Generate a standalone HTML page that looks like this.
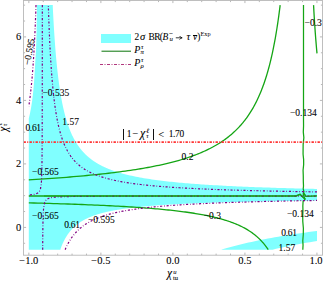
<!DOCTYPE html>
<html><head><meta charset="utf-8"><title>plot</title>
<style>
html,body{margin:0;padding:0;background:#fff;}
body{width:324px;height:281px;position:relative;overflow:hidden;font-family:"Liberation Serif",serif;color:#000;}
.t{position:absolute;white-space:nowrap;line-height:1;font-family:"Liberation Serif",serif;-webkit-text-stroke:0.08px #000;}
</style></head><body>
<svg width="324" height="281" viewBox="0 0 324 281" style="position:absolute;left:0;top:0">
<rect width="324" height="281" fill="#fff"/>
<path d="M36.90,5.10 L36.89,7.02 L36.88,8.94 L36.87,10.87 L36.85,12.79 L36.83,14.71 L36.81,16.63 L36.78,18.55 L36.76,20.48 L36.73,22.40 L36.70,24.32 L36.66,26.24 L36.63,28.16 L36.60,30.09 L36.56,32.01 L36.52,33.93 L36.47,35.85 L36.42,37.77 L36.37,39.70 L36.31,41.62 L36.24,43.54 L36.18,45.46 L36.10,47.38 L36.03,49.31 L35.95,51.23 L35.85,53.15 L35.74,55.07 L35.62,56.99 L35.49,58.92 L35.37,60.84 L35.25,62.76 L35.14,64.68 L35.03,66.61 L34.92,68.53 L34.81,70.45 L34.70,72.37 L34.59,74.29 L34.46,76.22 L34.33,78.14 L34.20,80.06 L34.05,81.98 L33.90,83.90 L33.73,85.83 L33.56,87.75 L33.39,89.67 L33.20,91.59 L33.00,93.51 L32.79,95.44 L32.58,97.36 L32.34,99.28 L32.08,101.20 L31.80,103.12 L31.50,105.05 L31.18,106.97 L30.84,108.89 L30.48,110.81 L30.09,112.73 L29.68,114.66 L29.25,116.58 L28.80,118.50 L28.80,249.70 L60.48,249.70 L60.49,249.10 L60.80,248.23 L61.12,247.40 L61.43,246.59 L61.74,245.80 L62.05,245.05 L62.36,244.31 L62.67,243.60 L62.98,242.90 L63.30,242.23 L63.61,241.58 L63.92,240.95 L64.23,240.33 L64.54,239.73 L64.85,239.15 L65.17,238.58 L65.48,238.03 L65.79,237.49 L66.10,236.97 L66.41,236.46 L66.72,235.96 L67.04,235.48 L67.35,235.00 L67.66,234.54 L67.97,234.09 L68.28,233.65 L68.59,233.22 L68.90,232.80 L69.22,232.40 L69.53,231.99 L69.84,231.60 L70.15,231.22 L70.46,230.85 L70.77,230.48 L71.09,230.12 L71.40,229.77 L71.71,229.43 L72.02,229.09 L72.33,228.76 L72.64,228.44 L72.95,228.12 L73.27,227.81 L73.58,227.51 L73.89,227.21 L74.20,226.92 L74.51,226.63 L74.82,226.35 L75.14,226.08 L75.45,225.81 L75.76,225.54 L76.07,225.28 L76.38,225.02 L76.69,224.77 L77.01,224.53 L77.32,224.28 L77.63,224.05 L77.94,223.81 L78.25,223.58 L78.56,223.35 L78.87,223.13 L79.19,222.91 L79.50,222.70 L79.81,222.49 L80.12,222.28 L80.43,222.08 L80.74,221.87 L81.06,221.68 L81.37,221.48 L81.68,221.29 L81.99,221.10 L82.30,220.91 L82.61,220.73 L82.92,220.55 L83.24,220.37 L83.55,220.20 L83.86,220.03 L84.17,219.86 L84.48,219.69 L84.79,219.52 L85.11,219.36 L85.42,219.20 L85.73,219.04 L86.04,218.89 L86.35,218.73 L86.66,218.58 L86.97,218.43 L87.29,218.29 L87.60,218.14 L87.91,218.00 L88.22,217.86 L88.53,217.72 L88.84,217.58 L89.16,217.45 L89.47,217.31 L89.78,217.18 L90.09,217.05 L90.40,216.92 L90.71,216.79 L91.03,216.67 L91.34,216.54 L91.65,216.42 L91.96,216.30 L92.27,216.18 L92.58,216.06 L92.89,215.95 L93.21,215.83 L93.52,215.72 L93.83,215.61 L94.14,215.50 L94.45,215.39 L94.76,215.28 L95.08,215.17 L95.39,215.07 L95.70,214.96 L96.01,214.86 L96.32,214.76 L96.63,214.65 L96.94,214.55 L97.26,214.46 L97.57,214.36 L97.88,214.26 L98.19,214.17 L98.50,214.07 L98.81,213.98 L99.13,213.89 L99.44,213.80 L99.75,213.71 L100.06,213.62 L100.37,213.53 L100.68,213.44 L100.99,213.35 L101.31,213.27 L101.62,213.18 L101.93,213.10 L102.24,213.02 L102.55,212.93 L102.86,212.85 L103.18,212.77 L103.49,212.69 L103.80,212.61 L104.11,212.54 L104.42,212.46 L104.73,212.38 L105.05,212.31 L105.36,212.23 L105.67,212.16 L105.98,212.08 L106.29,212.01 L106.60,211.94 L106.91,211.87 L107.23,211.80 L107.54,211.73 L107.85,211.66 L108.16,211.59 L108.47,211.52 L108.78,211.45 L109.10,211.39 L109.41,211.32 L109.72,211.25 L110.03,211.19 L110.34,211.13 L110.65,211.06 L110.96,211.00 L111.28,210.94 L111.59,210.87 L111.90,210.81 L112.21,210.75 L112.52,210.69 L112.83,210.63 L113.15,210.57 L113.46,210.51 L113.77,210.45 L114.08,210.40 L114.39,210.34 L114.70,210.28 L115.02,210.23 L115.33,210.17 L115.64,210.11 L115.95,210.06 L116.26,210.00 L116.57,209.95 L116.88,209.90 L117.20,209.84 L117.51,209.79 L117.82,209.74 L118.13,209.69 L118.44,209.64 L118.75,209.58 L119.07,209.53 L119.38,209.48 L119.69,209.43 L120.00,209.38 L121.99,209.08 L123.98,208.79 L125.97,208.51 L127.96,208.24 L129.95,207.99 L131.94,207.75 L133.93,207.52 L135.92,207.30 L137.91,207.08 L139.90,206.88 L141.89,206.68 L143.88,206.50 L145.87,206.32 L147.86,206.14 L149.85,205.97 L151.84,205.81 L153.83,205.66 L155.82,205.51 L157.81,205.36 L159.80,205.22 L161.79,205.09 L163.78,204.96 L165.77,204.83 L167.76,204.71 L169.75,204.59 L171.74,204.47 L173.73,204.36 L175.72,204.25 L177.71,204.15 L179.70,204.04 L181.69,203.94 L183.68,203.85 L185.67,203.75 L187.66,203.66 L189.65,203.57 L191.64,203.49 L193.63,203.40 L195.62,203.32 L197.61,203.24 L199.60,203.16 L201.59,203.09 L203.58,203.01 L205.57,202.94 L207.56,202.87 L209.55,202.80 L211.54,202.73 L213.53,202.67 L215.52,202.60 L217.51,202.54 L219.49,202.48 L221.48,202.42 L223.47,202.36 L225.46,202.30 L227.45,202.25 L229.44,202.19 L231.43,202.14 L233.42,202.09 L235.41,202.03 L237.40,201.98 L239.39,201.93 L241.38,201.89 L243.37,201.84 L245.36,201.79 L247.35,201.75 L249.34,201.70 L251.33,201.66 L253.32,201.61 L255.31,201.57 L257.30,201.53 L259.29,201.49 L261.28,201.45 L263.27,201.41 L265.26,201.37 L267.25,201.33 L269.24,201.30 L271.23,201.26 L273.22,201.22 L275.21,201.19 L277.20,201.15 L279.19,201.12 L281.18,201.08 L283.17,201.05 L285.16,201.02 L287.15,200.99 L289.14,200.96 L291.13,200.92 L293.12,200.89 L295.11,200.86 L297.10,200.83 L299.09,200.80 L301.08,200.78 L303.07,200.75 L305.06,200.72 L307.05,200.69 L309.04,200.67 L311.03,200.64 L313.02,200.61 L315.01,200.59 L317.00,200.56 L317.00,188.94 L315.01,188.90 L313.02,188.85 L311.03,188.80 L309.04,188.76 L307.05,188.71 L305.06,188.66 L303.07,188.61 L301.08,188.56 L299.09,188.51 L297.10,188.45 L295.11,188.40 L293.12,188.35 L291.13,188.29 L289.14,188.24 L287.15,188.18 L285.16,188.12 L283.17,188.06 L281.18,188.00 L279.19,187.94 L277.20,187.88 L275.21,187.82 L273.22,187.75 L271.23,187.69 L269.24,187.62 L267.25,187.56 L265.26,187.49 L263.27,187.42 L261.28,187.35 L259.29,187.27 L257.30,187.20 L255.31,187.13 L253.32,187.05 L251.33,186.97 L249.34,186.89 L247.35,186.81 L245.36,186.73 L243.37,186.64 L241.38,186.56 L239.39,186.47 L237.40,186.38 L235.41,186.29 L233.42,186.20 L231.43,186.10 L229.44,186.00 L227.45,185.90 L225.46,185.80 L223.47,185.70 L221.48,185.59 L219.49,185.48 L217.51,185.37 L215.52,185.26 L213.53,185.14 L211.54,185.02 L209.55,184.90 L207.56,184.78 L205.57,184.65 L203.58,184.52 L201.59,184.38 L199.60,184.25 L197.61,184.11 L195.62,183.96 L193.63,183.81 L191.64,183.66 L189.65,183.50 L187.66,183.34 L185.67,183.17 L183.68,183.00 L181.69,182.83 L179.70,182.65 L177.71,182.46 L175.72,182.27 L173.73,182.07 L171.74,181.87 L169.75,181.66 L167.76,181.44 L165.77,181.22 L163.78,180.98 L161.79,180.75 L159.80,180.50 L157.81,180.24 L155.82,179.98 L153.83,179.70 L151.84,179.42 L149.85,179.12 L147.86,178.81 L145.87,178.50 L143.88,178.16 L141.89,177.82 L139.90,177.46 L137.91,177.08 L135.92,176.69 L133.93,176.29 L131.94,175.86 L129.95,175.41 L127.96,174.95 L125.97,174.46 L123.98,173.94 L121.99,173.40 L120.00,172.84 L119.77,172.77 L119.53,172.70 L119.30,172.63 L119.06,172.56 L118.83,172.49 L118.60,172.42 L118.36,172.34 L118.13,172.27 L117.89,172.20 L117.66,172.13 L117.42,172.05 L117.19,171.98 L116.96,171.91 L116.72,171.83 L116.49,171.76 L116.25,171.68 L116.02,171.61 L115.79,171.53 L115.55,171.45 L115.32,171.37 L115.08,171.30 L114.85,171.22 L114.62,171.14 L114.38,171.06 L114.15,170.98 L113.91,170.90 L113.68,170.82 L113.44,170.73 L113.21,170.65 L112.98,170.57 L112.74,170.49 L112.51,170.40 L112.27,170.32 L112.04,170.23 L111.81,170.15 L111.57,170.06 L111.34,169.97 L111.10,169.88 L110.87,169.80 L110.64,169.71 L110.40,169.62 L110.17,169.53 L109.93,169.44 L109.70,169.35 L109.46,169.25 L109.23,169.16 L109.00,169.07 L108.76,168.97 L108.53,168.88 L108.29,168.78 L108.06,168.69 L107.83,168.59 L107.59,168.49 L107.36,168.40 L107.12,168.30 L106.89,168.20 L106.66,168.10 L106.42,167.99 L106.19,167.89 L105.95,167.79 L105.72,167.69 L105.48,167.58 L105.25,167.48 L105.02,167.37 L104.78,167.27 L104.55,167.16 L104.31,167.05 L104.08,166.94 L103.85,166.83 L103.61,166.72 L103.38,166.61 L103.14,166.49 L102.91,166.38 L102.68,166.27 L102.44,166.15 L102.21,166.04 L101.97,165.92 L101.74,165.80 L101.51,165.68 L101.27,165.56 L101.04,165.44 L100.80,165.32 L100.57,165.20 L100.33,165.07 L100.10,164.95 L99.87,164.82 L99.63,164.69 L99.40,164.56 L99.16,164.44 L98.93,164.30 L98.70,164.17 L98.46,164.04 L98.23,163.91 L97.99,163.77 L97.76,163.64 L97.53,163.50 L97.29,163.36 L97.06,163.22 L96.82,163.08 L96.59,162.94 L96.35,162.79 L96.12,162.65 L95.89,162.50 L95.65,162.36 L95.42,162.21 L95.18,162.06 L94.95,161.91 L94.72,161.75 L94.48,161.60 L94.25,161.44 L94.01,161.29 L93.78,161.13 L93.55,160.97 L93.31,160.81 L93.08,160.64 L92.84,160.48 L92.61,160.31 L92.37,160.14 L92.14,159.97 L91.91,159.80 L91.67,159.63 L91.44,159.46 L91.20,159.28 L90.97,159.10 L90.74,158.92 L90.50,158.74 L90.27,158.56 L90.03,158.37 L89.80,158.18 L89.57,158.00 L89.33,157.80 L89.10,157.61 L88.86,157.42 L88.63,157.22 L88.39,157.02 L88.16,156.82 L87.93,156.62 L87.69,156.41 L87.46,156.20 L87.22,155.99 L86.99,155.78 L86.76,155.57 L86.52,155.35 L86.29,155.13 L86.05,154.91 L85.82,154.69 L85.59,154.46 L85.35,154.23 L85.12,154.00 L84.88,153.76 L84.65,153.53 L84.41,153.29 L84.18,153.04 L83.95,152.80 L83.71,152.55 L83.48,152.30 L83.24,152.05 L83.01,151.79 L82.78,151.53 L82.54,151.26 L82.31,151.00 L82.07,150.73 L81.84,150.45 L81.61,150.18 L81.37,149.90 L81.14,149.61 L80.90,149.33 L80.67,149.04 L80.43,148.74 L80.20,148.44 L79.97,148.14 L79.73,147.84 L79.50,147.53 L79.26,147.21 L79.03,146.89 L78.80,146.57 L78.56,146.25 L78.33,145.91 L78.09,145.58 L77.86,145.24 L77.63,144.89 L77.39,144.54 L77.16,144.19 L76.92,143.83 L76.69,143.46 L76.45,143.09 L76.22,142.72 L75.99,142.34 L75.75,141.95 L75.52,141.56 L75.28,141.16 L75.05,140.76 L74.82,140.35 L74.58,139.93 L74.35,139.51 L74.11,139.08 L73.88,138.64 L73.65,138.20 L73.41,137.75 L73.18,137.29 L72.94,136.83 L72.71,136.36 L72.47,135.88 L72.24,135.39 L72.01,134.90 L71.77,134.39 L71.54,133.88 L71.30,133.36 L71.07,132.83 L70.84,132.29 L70.60,131.74 L70.37,131.19 L70.13,130.62 L69.90,130.04 L69.67,129.45 L69.43,128.85 L69.20,128.24 L68.96,127.62 L68.73,126.99 L68.49,126.35 L68.26,125.69 L68.03,125.02 L67.79,124.34 L67.56,123.64 L67.32,122.93 L67.09,122.20 L66.86,121.47 L66.62,120.71 L66.39,119.94 L66.15,119.16 L65.92,118.35 L65.69,117.53 L65.45,116.70 L65.22,115.84 L64.98,114.97 L64.75,114.07 L64.52,113.16 L64.28,112.22 L64.05,111.27 L63.81,110.29 L63.58,109.29 L63.34,108.26 L63.11,107.21 L62.88,106.13 L62.64,105.03 L62.41,103.90 L62.17,102.74 L61.94,101.55 L61.71,100.33 L61.47,99.08 L61.24,97.79 L61.00,96.47 L60.77,95.12 L60.54,93.72 L60.30,92.29 L60.07,90.81 L59.83,89.29 L59.60,87.73 L59.36,86.12 L59.13,84.46 L58.90,82.75 L58.66,80.99 L58.43,79.17 L58.19,77.29 L57.96,75.35 L57.73,73.34 L57.49,71.27 L57.26,69.12 L57.02,66.90 L56.79,64.60 L56.56,62.21 L56.32,59.74 L56.09,57.17 L55.85,54.50 L55.62,51.73 L55.38,48.85 L55.15,45.84 L54.92,42.72 L54.68,39.45 L54.45,36.05 L54.21,32.49 L53.98,28.77 L53.75,24.88 L53.51,20.80 L53.28,16.52 L53.04,12.02 L52.81,7.29 L52.80,5.10Z" fill="#80ffff"/>
<path d="M221.18,249.70 L222.41,249.33 L225.14,248.54 L227.90,247.75 L230.71,246.98 L233.56,246.22 L236.45,245.47 L239.39,244.73 L242.37,244.01 L245.39,243.29 L248.46,242.59 L251.58,241.89 L254.75,241.21 L257.96,240.53 L261.22,239.87 L264.53,239.22 L267.90,238.57 L271.31,237.94 L274.77,237.31 L278.29,236.70 L281.86,236.09 L285.48,235.49 L289.16,234.90 L292.89,234.32 L296.68,233.75 L300.53,233.19 L304.44,232.64 L308.40,232.09 L312.43,231.55 L316.51,231.02 L317.00,230.96 L317.00,240.98 L314.00,241.47 L309.95,242.16 L305.96,242.86 L302.03,243.57 L298.16,244.29 L294.35,245.02 L290.59,245.76 L286.89,246.51 L283.25,247.28 L279.66,248.05 L276.12,248.84 L272.64,249.64 L272.38,249.70Z" fill="#80ffff"/>
<path d="M28.80,179.84 L32.15,179.64 L36.19,179.40 L40.17,179.15 L44.10,178.89 L47.96,178.63 L51.77,178.37 L55.52,178.10 L59.22,177.83 L62.86,177.56 L66.44,177.28 L69.97,176.99 L73.45,176.71 L76.88,176.41 L80.26,176.12 L83.58,175.82 L86.86,175.51 L90.09,175.20 L93.27,174.89 L96.40,174.57 L99.49,174.24 L102.53,173.91 L105.52,173.58 L108.47,173.24 L111.38,172.90 L114.24,172.55 L117.06,172.19 L119.84,171.83 L122.57,171.47 L125.27,171.10 L127.92,170.72 L130.54,170.34 L133.12,169.95 L135.65,169.55 L138.15,169.15 L140.62,168.75 L143.04,168.33 L145.43,167.92 L147.79,167.49 L150.11,167.06 L152.39,166.62 L154.64,166.18 L156.86,165.73 L159.05,165.27 L161.20,164.80 L163.32,164.33 L165.41,163.85 L167.46,163.36 L169.49,162.87 L171.49,162.37 L173.45,161.86 L175.39,161.34 L177.30,160.82 L179.18,160.29 L181.03,159.75 L182.85,159.20 L184.65,158.64 L186.42,158.08 L188.16,157.50 L189.88,156.92 L191.57,156.33 L193.24,155.73 L194.88,155.12 L196.50,154.50 L198.09,153.87 L199.66,153.23 L201.21,152.59 L202.73,151.93 L204.23,151.26 L205.71,150.59 L207.17,149.90 L208.60,149.20 L210.02,148.49 L211.41,147.77 L212.78,147.04 L214.13,146.30 L215.46,145.55 L216.77,144.79 L218.06,144.01 L219.34,143.23 L220.59,142.43 L221.82,141.62 L223.04,140.79 L224.24,139.96 L225.42,139.11 L226.58,138.25 L227.72,137.38 L228.85,136.49 L229.96,135.59 L231.06,134.67 L232.14,133.75 L233.20,132.80 L234.25,131.85 L235.28,130.88 L236.29,129.89 L237.29,128.89 L238.28,127.88 L239.25,126.85 L240.20,125.80 L241.15,124.74 L242.07,123.66 L242.99,122.56 L243.89,121.45 L244.78,120.32 L245.65,119.18 L246.51,118.02 L247.36,116.84 L248.19,115.64 L249.02,114.42 L249.83,113.19 L250.63,111.94 L251.41,110.66 L252.19,109.37 L252.95,108.06 L253.70,106.73 L254.44,105.38 L255.17,104.01 L255.89,102.62 L256.60,101.20 L257.30,99.77 L257.99,98.31 L258.66,96.83 L259.33,95.33 L259.99,93.81 L260.63,92.26 L261.27,90.69 L261.90,89.10 L262.52,87.48 L263.13,85.84 L263.73,84.17 L264.32,82.48 L264.90,80.76 L265.48,79.02 L266.04,77.25 L266.60,75.45 L267.15,73.63 L267.69,71.78 L268.22,69.90 L268.74,67.99 L269.26,66.05 L269.77,64.09 L270.27,62.09 L270.76,60.06 L271.25,58.01 L271.73,55.92 L272.20,53.80 L272.67,51.65 L273.13,49.46 L273.58,47.24 L274.02,44.99 L274.46,42.71 L274.89,40.39 L275.32,38.03 L275.73,35.64 L276.15,33.22 L276.55,30.75 L276.95,28.25 L277.35,25.72 L277.74,23.14 L278.12,20.52 L278.50,17.87 L278.87,15.17 L279.23,12.44 L279.59,9.66 L279.95,6.84 L280.16,5.10" fill="none" stroke="#14a514" stroke-width="1.3"/>
<path d="M28.80,202.88 L29.80,202.90 L33.88,203.01 L37.89,203.11 L41.85,203.22 L45.75,203.33 L49.59,203.44 L53.38,203.55 L57.10,203.67 L60.77,203.79 L64.39,203.90 L67.95,204.02 L71.46,204.14 L74.92,204.27 L78.33,204.39 L81.68,204.52 L84.99,204.65 L88.24,204.78 L91.45,204.91 L94.61,205.05 L97.72,205.18 L100.79,205.32 L103.81,205.46 L106.78,205.61 L109.71,205.75 L112.60,205.90 L115.44,206.05 L118.25,206.20 L121.01,206.36 L123.73,206.51 L126.40,206.67 L129.04,206.83 L131.64,207.00 L134.20,207.16 L136.72,207.33 L139.21,207.50 L141.66,207.68 L144.07,207.85 L146.44,208.03 L148.78,208.22 L151.09,208.40 L153.36,208.59 L155.59,208.78 L157.80,208.97 L159.97,209.17 L162.11,209.37 L164.21,209.57 L166.29,209.78 L168.33,209.98 L170.34,210.20 L172.33,210.41 L174.28,210.63 L176.21,210.85 L178.10,211.08 L179.97,211.30 L181.81,211.53 L183.62,211.77 L185.41,212.01 L187.17,212.25 L188.90,212.50 L190.61,212.75 L192.29,213.00 L193.94,213.26 L195.58,213.52 L197.18,213.78 L198.77,214.05 L200.33,214.33 L201.86,214.60 L203.38,214.88 L204.87,215.17 L206.34,215.46 L207.78,215.75 L209.21,216.05 L210.61,216.36 L211.99,216.67 L213.36,216.98 L214.70,217.30 L216.02,217.62 L217.32,217.94 L218.61,218.28 L219.87,218.61 L221.12,218.96 L222.34,219.30 L223.55,219.66 L224.74,220.01 L225.91,220.38 L227.07,220.75 L228.21,221.12 L229.33,221.50 L230.43,221.89 L231.52,222.28 L232.59,222.68 L233.65,223.08 L234.69,223.49 L235.71,223.91 L236.72,224.33 L237.71,224.76 L238.69,225.19 L239.66,225.63 L240.61,226.08 L241.54,226.54 L242.47,227.00 L243.37,227.47 L244.27,227.94 L245.15,228.43 L246.02,228.92 L246.87,229.42 L247.72,229.92 L248.55,230.44 L249.36,230.96 L250.17,231.49 L250.96,232.02 L251.74,232.57 L252.51,233.12 L253.27,233.68 L254.02,234.25 L254.76,234.83 L255.48,235.42 L256.20,236.02 L256.90,236.62 L257.59,237.24 L258.28,237.86 L258.95,238.49 L259.61,239.14 L260.26,239.79 L260.91,240.45 L261.54,241.12 L262.16,241.81 L262.78,242.50 L263.38,243.20 L263.98,243.92 L264.57,244.64 L265.15,245.38 L265.72,246.13 L266.28,246.89 L266.83,247.66 L267.38,248.44 L267.91,249.23 L268.22,249.70" fill="none" stroke="#14a514" stroke-width="1.3"/>
<path d="M313.56,5.10 L313.58,5.56 L313.74,8.40 L313.89,11.19 L314.05,13.95 L314.21,16.66 L314.38,19.34 L314.54,21.97 L314.71,24.56 L314.88,27.12 L315.06,29.64 L315.23,32.12 L315.41,34.56 L315.59,36.97 L315.78,39.34 L315.97,41.67 L316.16,43.97 L316.35,46.24 L316.54,48.47 L316.74,50.67 L316.95,52.84 L317.00,53.41" fill="none" stroke="#14a514" stroke-width="1.3"/>
<path d="M303.50,5.10 L303.50,120.00 L303.55,126.00 L303.31,132.12 L303.85,137.66 L303.16,144.35 L303.10,148.97 L303.08,154.29 L303.63,159.66 L303.66,164.50 L303.07,170.27 L303.28,175.95 L303.31,181.19 L303.50,186.00 L303.20,189.00 L303.90,191.50 L303.20,194.00 L305.00,199.50 L303.10,201.20 L302.84,206.00 L302.94,210.47 L302.71,216.81 L302.79,221.48 L303.38,228.29 L303.30,234.30 L302.78,240.84 L303.05,245.12 L302.80,249.70" fill="none" stroke="#14a514" stroke-width="1.25" stroke-linejoin="round"/>
<path d="M28.8,196 L296,196 L300,194.3 L305.2,199.3" fill="none" stroke="#14a514" stroke-width="1.5"/>
<path d="M303.5,193 L306,196.3 L317.0,195.8" fill="none" stroke="#14a514" stroke-width="1.3"/>
<path d="M36.01,5.10 L35.95,6.78 L35.85,9.60 L35.76,12.38 L35.66,15.12 L35.55,17.81 L35.45,20.47 L35.34,23.08 L35.24,25.66 L35.13,28.20 L35.02,30.70 L34.91,33.17 L34.79,35.59 L34.68,37.99 L34.56,40.34 L34.44,42.66 L34.32,44.95 L34.20,47.20 L34.08,49.42 L33.95,51.60 L33.82,53.75 L33.69,55.87 L33.56,57.96 L33.43,60.02 L33.29,62.05 L33.15,64.04 L33.01,66.01 L32.87,67.95 L32.73,69.86 L32.58,71.74 L32.43,73.59 L32.28,75.42 L32.13,77.21 L31.97,78.98 L31.82,80.73 L31.66,82.45 L31.49,84.14 L31.33,85.81 L31.16,87.45 L30.99,89.07 L30.82,90.66 L30.64,92.23 L30.47,93.78 L30.28,95.30 L30.10,96.80 L29.92,98.28 L29.73,99.74 L29.53,101.17 L29.34,102.59 L29.14,103.98 L28.94,105.35 L28.80,106.29" fill="none" stroke="#800080" stroke-width="1.2" stroke-dasharray="2.1 1.85 0.75 1.8"/>
<path d="M65.12,249.70 L65.17,249.59 L65.51,248.79 L65.86,248.00 L66.22,247.23 L66.58,246.46 L66.94,245.71 L67.31,244.97 L67.69,244.24 L68.07,243.52 L68.46,242.81 L68.86,242.12 L69.26,241.43 L69.66,240.75 L70.07,240.08 L70.49,239.43 L70.92,238.78 L71.35,238.14 L71.79,237.51 L72.23,236.89 L72.68,236.29 L73.14,235.68 L73.61,235.09 L74.08,234.51 L74.56,233.94 L75.05,233.37 L75.54,232.81 L76.04,232.26 L76.55,231.72 L77.07,231.19 L77.59,230.67 L78.12,230.15 L78.66,229.64 L79.21,229.14 L79.77,228.65 L80.34,228.16 L80.91,227.68 L81.49,227.21 L82.08,226.74 L82.69,226.28 L83.29,225.83 L83.91,225.39 L84.54,224.95 L85.18,224.52 L85.83,224.09 L86.48,223.67 L87.15,223.26 L87.83,222.86 L88.52,222.46 L89.21,222.06 L89.92,221.67 L90.64,221.29 L91.37,220.91 L92.11,220.54 L92.86,220.18 L93.63,219.82 L94.40,219.46 L95.19,219.11 L95.99,218.77 L96.80,218.43 L97.62,218.09 L98.46,217.76 L99.31,217.44 L100.17,217.12 L101.04,216.80 L101.93,216.49 L102.83,216.19 L103.74,215.89 L104.67,215.59 L105.62,215.30 L106.57,215.01 L107.54,214.73 L108.53,214.45 L109.53,214.17 L110.55,213.90 L111.58,213.64 L112.62,213.37 L113.69,213.11 L114.76,212.86 L115.86,212.61 L116.97,212.36 L118.10,212.12 L119.24,211.88 L120.41,211.64 L121.59,211.41 L122.79,211.18 L124.00,210.95 L125.24,210.73 L126.49,210.51 L127.76,210.29 L129.06,210.08 L130.37,209.87 L131.70,209.66 L133.05,209.46 L134.42,209.26 L135.81,209.06 L137.23,208.87 L138.66,208.67 L140.12,208.48 L141.60,208.30 L143.10,208.12 L144.62,207.93 L146.17,207.76 L147.74,207.58 L149.33,207.41 L150.95,207.24 L152.59,207.07 L154.26,206.91 L155.95,206.74 L157.67,206.58 L159.42,206.43 L161.19,206.27 L162.98,206.12 L164.81,205.97 L166.66,205.82 L168.54,205.67 L170.45,205.53 L172.39,205.39 L174.36,205.25 L176.35,205.11 L178.38,204.97 L180.44,204.84 L182.53,204.71 L184.65,204.58 L186.80,204.45 L188.98,204.32 L191.20,204.20 L193.45,204.08 L195.74,203.96 L198.06,203.84 L200.41,203.72 L202.81,203.61 L205.23,203.49 L207.70,203.38 L210.20,203.27 L212.74,203.16 L215.32,203.06 L217.93,202.95 L220.59,202.85 L223.28,202.74 L226.02,202.64 L228.80,202.55 L231.62,202.45 L234.48,202.35 L237.39,202.26 L240.34,202.16 L243.34,202.07 L246.38,201.98 L249.46,201.89 L252.60,201.80 L255.78,201.72 L259.01,201.63 L262.28,201.55 L265.61,201.47 L268.99,201.38 L272.42,201.30 L275.90,201.22 L279.43,201.15 L283.02,201.07 L286.66,200.99 L290.36,200.92 L294.11,200.85 L297.92,200.77 L301.78,200.70 L305.71,200.63 L309.69,200.56 L313.74,200.50 L317.00,200.44" fill="none" stroke="#800080" stroke-width="1.2" stroke-dasharray="2.1 1.85 0.75 1.8"/>
<path d="M317.00,191.88 L315.57,191.86 L311.50,191.80 L307.49,191.74 L303.54,191.67 L299.65,191.61 L295.81,191.54 L292.03,191.47 L288.31,191.40 L284.65,191.34 L281.04,191.26 L277.48,191.19 L273.97,191.12 L270.52,191.05 L267.12,190.97 L263.77,190.90 L260.47,190.82 L257.22,190.74 L254.02,190.66 L250.86,190.58 L247.76,190.50 L244.70,190.41 L241.68,190.33 L238.71,190.24 L235.78,190.16 L232.90,190.07 L230.06,189.98 L227.26,189.89 L224.51,189.79 L221.79,189.70 L219.12,189.61 L216.48,189.51 L213.89,189.41 L211.33,189.31 L208.82,189.21 L206.33,189.11 L203.89,189.00 L201.48,188.90 L199.11,188.79 L196.78,188.68 L194.47,188.57 L192.21,188.46 L189.97,188.34 L187.78,188.23 L185.61,188.11 L183.47,187.99 L181.37,187.87 L179.30,187.75 L177.26,187.62 L175.25,187.49 L173.27,187.37 L171.32,187.23 L169.40,187.10 L167.50,186.97 L165.64,186.83 L163.80,186.69 L161.99,186.55 L160.21,186.41 L158.45,186.26 L156.72,186.12 L155.02,185.97 L153.34,185.81 L151.69,185.66 L150.06,185.50 L148.45,185.34 L146.87,185.18 L145.31,185.02 L143.78,184.85 L142.27,184.69 L140.78,184.51 L139.31,184.34 L137.87,184.16 L136.44,183.98 L135.04,183.80 L133.66,183.62 L132.30,183.43 L130.96,183.24 L129.64,183.05 L128.34,182.85 L127.06,182.65 L125.80,182.45 L124.55,182.25 L123.33,182.04 L122.12,181.83 L120.94,181.61 L119.76,181.39 L118.61,181.17 L117.48,180.95 L116.36,180.72 L115.25,180.49 L114.17,180.25 L113.10,180.02 L112.04,179.77 L111.01,179.53 L109.98,179.28 L108.98,179.03 L107.98,178.77 L107.01,178.51 L106.04,178.24 L105.09,177.98 L104.16,177.70 L103.24,177.43 L102.33,177.15 L101.44,176.86 L100.56,176.57 L99.69,176.28 L98.84,175.98 L98.00,175.67 L97.17,175.37 L96.35,175.06 L95.55,174.74 L94.75,174.42 L93.97,174.09 L93.21,173.76 L92.45,173.42 L91.70,173.08 L90.97,172.73 L90.24,172.38 L89.53,172.02 L88.83,171.66 L88.14,171.29 L87.45,170.92 L86.78,170.54 L86.12,170.15 L85.47,169.76 L84.83,169.37 L84.19,168.96 L83.57,168.55 L82.96,168.14 L82.35,167.72 L81.76,167.29 L81.17,166.85 L80.59,166.41 L80.02,165.97 L79.46,165.51 L78.91,165.05 L78.37,164.58 L77.83,164.11 L77.30,163.62 L76.78,163.13 L76.27,162.64 L75.76,162.13 L75.27,161.62 L74.78,161.10 L74.29,160.57 L73.82,160.03 L73.35,159.49 L72.89,158.94 L72.43,158.38 L71.99,157.81 L71.55,157.23 L71.11,156.64 L70.68,156.05 L70.26,155.44 L69.85,154.83 L69.44,154.21 L69.03,153.57 L68.64,152.93 L68.25,152.28 L67.86,151.62 L67.48,150.95 L67.11,150.26 L66.74,149.57 L66.38,148.87 L66.02,148.16 L65.67,147.43 L65.32,146.70 L64.98,145.95 L64.64,145.19 L64.31,144.43 L63.98,143.65 L63.66,142.85 L63.34,142.05 L63.03,141.23 L62.73,140.40 L62.42,139.56 L62.12,138.71 L61.83,137.84 L61.54,136.96 L61.25,136.07 L60.97,135.16 L60.70,134.24 L60.42,133.31 L60.16,132.36 L59.89,131.39 L59.63,130.42 L59.37,129.42 L59.12,128.42 L58.87,127.39 L58.63,126.36 L58.38,125.30 L58.15,124.23 L57.91,123.15 L57.68,122.04 L57.45,120.92 L57.23,119.79 L57.01,118.64 L56.79,117.46 L56.57,116.28 L56.36,115.07 L56.15,113.85 L55.95,112.60 L55.75,111.34 L55.55,110.06 L55.35,108.76 L55.16,107.44 L54.97,106.10 L54.78,104.74 L54.60,103.36 L54.42,101.96 L54.24,100.53 L54.06,99.09 L53.89,97.62 L53.71,96.13 L53.55,94.62 L53.38,93.09 L53.22,91.53 L53.06,89.95 L52.90,88.34 L52.74,86.71 L52.59,85.06 L52.43,83.38 L52.28,81.68 L52.14,79.95 L51.99,78.19 L51.85,76.41 L51.71,74.60 L51.57,72.76 L51.43,70.90 L51.30,69.00 L51.17,67.08 L51.03,65.13 L50.91,63.15 L50.78,61.14 L50.65,59.10 L50.53,57.03 L50.41,54.93 L50.29,52.79 L50.17,50.62 L50.06,48.43 L49.94,46.19 L49.83,43.93 L49.72,41.62 L49.61,39.29 L49.50,36.92 L49.40,34.51 L49.29,32.07 L49.19,29.58 L49.09,27.07 L48.99,24.51 L48.89,21.92 L48.79,19.28 L48.70,16.61 L48.61,13.89 L48.51,11.14 L48.42,8.34 L48.33,5.50 L48.32,5.10" fill="none" stroke="#800080" stroke-width="1.2" stroke-dasharray="2.1 1.85 0.75 1.8"/>
<path d="M42.33,5.10 L42.33,6.02 L42.33,8.85 L42.32,11.64 L42.32,14.39 L42.32,17.09 L42.32,19.76 L42.32,22.39 L42.32,24.98 L42.32,27.52 L42.32,30.04 L42.31,32.51 L42.31,34.95 L42.31,37.35 L42.31,39.71 L42.31,42.04 L42.31,44.34 L42.31,46.60 L42.30,48.83 L42.30,51.02 L42.30,53.18 L42.30,55.31 L42.30,57.41 L42.30,59.47 L42.30,61.51 L42.29,63.51 L42.29,65.49 L42.29,67.43 L42.29,69.35 L42.29,71.24 L42.29,73.10 L42.28,74.93 L42.28,76.73 L42.28,78.51 L42.28,80.26 L42.28,81.99 L42.28,83.69 L42.27,85.36 L42.27,87.01 L42.27,88.64 L42.27,90.24 L42.27,91.81 L42.26,93.37 L42.26,94.90 L42.26,96.40 L42.26,97.89 L42.26,99.35 L42.25,100.79 L42.25,102.21 L42.25,103.61 L42.25,104.99 L42.24,106.34 L42.24,107.68 L42.24,109.00 L42.24,110.29 L42.23,111.57 L42.23,112.83 L42.23,114.07 L42.23,115.29 L42.22,116.49 L42.22,117.68 L42.22,118.85 L42.22,120.00 L42.21,121.13 L42.21,122.24 L42.21,123.34 L42.20,124.43 L42.20,125.49 L42.20,126.54 L42.20,127.58 L42.19,128.60 L42.19,129.60 L42.19,130.59 L42.18,131.57 L42.18,132.53 L42.18,133.48 L42.17,134.41 L42.17,135.33 L42.17,136.23 L42.16,137.12 L42.16,138.00 L42.15,138.86 L42.15,139.72 L42.15,140.55 L42.14,141.38 L42.14,142.20 L42.14,143.00 L42.13,143.79 L42.13,144.57 L42.12,145.33 L42.12,146.09 L42.12,146.83 L42.11,147.56 L42.11,148.29 L42.10,149.00 L42.10,149.70 L42.09,150.39 L42.09,151.07 L42.08,151.74 L42.08,152.40 L42.07,153.05 L42.07,153.69 L42.06,154.32 L42.06,154.94 L42.05,155.55 L42.05,156.16 L42.04,156.75 L42.04,157.33 L42.03,157.91 L42.03,158.48 L42.02,159.04 L42.02,159.59 L42.01,160.13 L42.00,160.67 L42.00,161.19 L41.99,161.71 L41.99,162.22 L41.98,162.73 L41.97,163.22 L41.97,163.71 L41.96,164.19 L41.95,164.67 L41.95,165.13 L41.94,165.59 L41.93,166.05 L41.93,166.49 L41.92,166.93 L41.91,167.37 L41.90,167.79 L41.90,168.21 L41.89,168.63 L41.88,169.04 L41.87,169.44 L41.86,169.83 L41.86,170.22 L41.85,170.61 L41.84,170.99 L41.83,171.36 L41.82,171.73 L41.81,172.09 L41.81,172.45 L41.80,172.80 L41.79,173.14 L41.78,173.48 L41.77,173.82 L41.76,174.15 L41.75,174.47 L41.74,174.80 L41.73,175.11 L41.72,175.42 L41.71,175.73 L41.70,176.03 L41.69,176.33 L41.68,176.62 L41.67,176.91 L41.66,177.20 L41.64,177.48 L41.63,177.75 L41.62,178.02 L41.61,178.29 L41.60,178.56 L41.59,178.82 L41.57,179.07 L41.56,179.33 L41.55,179.57 L41.53,179.82 L41.52,180.06 L41.51,180.30 L41.49,180.53 L41.48,180.76 L41.47,180.99 L41.45,181.21 L41.44,181.43 L41.42,181.65 L41.41,181.86 L41.39,182.08 L41.38,182.28 L41.36,182.49 L41.35,182.69 L41.33,182.89 L41.32,183.08 L41.30,183.28 L41.28,183.46 L41.27,183.65 L41.25,183.84 L41.23,184.02 L41.21,184.20 L41.20,184.37 L41.18,184.54 L41.16,184.72 L41.14,184.88 L41.12,185.05 L41.10,185.21 L41.08,185.37 L41.06,185.53 L41.04,185.69 L41.02,185.84 L41.00,185.99 L40.98,186.14 L40.96,186.29 L40.94,186.43 L40.91,186.58 L40.89,186.72 L40.87,186.86 L40.85,186.99 L40.82,187.13 L40.80,187.26 L40.77,187.39 L40.75,187.52 L40.72,187.64 L40.70,187.77 L40.67,187.89 L40.65,188.01 L40.62,188.13 L40.59,188.25 L40.57,188.36 L40.54,188.48 L40.51,188.59 L40.48,188.70 L40.45,188.81 L40.42,188.92 L40.39,189.02 L40.36,189.13 L40.33,189.23 L40.30,189.33 L40.27,189.43 L40.24,189.53 L40.20,189.62 L40.17,189.72 L40.14,189.81 L40.10,189.90 L40.07,189.99 L40.03,190.08 L40.00,190.17 L39.96,190.26 L39.92,190.34 L39.89,190.43 L39.85,190.51 L39.81,190.59 L39.77,190.67 L39.73,190.75 L39.69,190.83 L39.65,190.91 L39.61,190.99 L39.57,191.06 L39.52,191.13 L39.48,191.21 L39.44,191.28 L39.39,191.35 L39.35,191.42 L39.30,191.49 L39.25,191.55 L39.20,191.62 L39.16,191.68 L39.11,191.75 L39.06,191.81 L39.01,191.87 L38.95,191.94 L38.90,192.00 L38.85,192.06 L38.80,192.12 L38.74,192.17 L38.69,192.23 L38.63,192.29 L38.57,192.34 L38.52,192.40 L38.46,192.45 L38.40,192.50 L38.34,192.55 L38.27,192.61 L38.21,192.66 L38.15,192.71 L38.08,192.76 L38.02,192.80 L37.95,192.85 L37.89,192.90 L37.82,192.95 L37.75,192.99 L37.68,193.04 L37.61,193.08 L37.53,193.12 L37.46,193.17 L37.39,193.21 L37.31,193.25 L37.23,193.29 L37.15,193.33 L37.07,193.37 L36.99,193.41 L36.91,193.45 L36.83,193.49 L36.74,193.52 L36.66,193.56 L36.57,193.60 L36.48,193.63 L36.39,193.67 L36.30,193.70 L36.21,193.74 L36.12,193.77 L36.02,193.80 L35.93,193.84 L35.83,193.87 L35.73,193.90 L35.63,193.93 L35.53,193.96 L35.42,193.99 L35.32,194.02 L35.21,194.05 L35.10,194.08 L34.99,194.11 L34.88,194.14 L34.76,194.17 L34.65,194.19 L34.53,194.22 L34.41,194.25 L34.29,194.27 L34.17,194.30 L34.04,194.32 L33.92,194.35 L33.79,194.37 L33.66,194.40 L33.53,194.42 L33.39,194.45 L33.26,194.47 L33.12,194.49 L32.98,194.51 L32.83,194.54 L32.69,194.56 L32.54,194.58 L32.39,194.60 L32.24,194.62 L32.09,194.64 L31.93,194.66 L31.77,194.68 L31.61,194.70 L31.45,194.72 L31.28,194.74 L31.12,194.76 L30.94,194.78 L30.77,194.80 L30.60,194.81 L30.42,194.83 L30.24,194.85 L30.05,194.87 L29.86,194.88 L29.68,194.90 L29.48,194.92 L29.29,194.93 L29.09,194.95 L28.89,194.96 L28.80,194.97" fill="none" stroke="#800080" stroke-width="1.2" stroke-dasharray="2.1 1.85 0.75 1.8"/>
<path d="M42.68,249.70 L42.68,249.24 L42.69,248.45 L42.69,247.66 L42.69,246.89 L42.70,246.14 L42.70,245.39 L42.71,244.65 L42.71,243.93 L42.72,243.21 L42.72,242.51 L42.73,241.82 L42.73,241.13 L42.74,240.46 L42.74,239.80 L42.75,239.14 L42.75,238.50 L42.76,237.87 L42.76,237.24 L42.77,236.63 L42.77,236.02 L42.78,235.43 L42.79,234.84 L42.79,234.26 L42.80,233.69 L42.80,233.13 L42.81,232.57 L42.82,232.03 L42.82,231.49 L42.83,230.96 L42.84,230.44 L42.84,229.93 L42.85,229.42 L42.86,228.92 L42.86,228.43 L42.87,227.95 L42.88,227.47 L42.88,227.00 L42.89,226.54 L42.90,226.09 L42.91,225.64 L42.91,225.20 L42.92,224.76 L42.93,224.33 L42.94,223.91 L42.95,223.49 L42.95,223.08 L42.96,222.68 L42.97,222.28 L42.98,221.89 L42.99,221.51 L43.00,221.12 L43.01,220.75 L43.02,220.38 L43.02,220.02 L43.03,219.66 L43.04,219.31 L43.05,218.96 L43.06,218.62 L43.07,218.28 L43.08,217.95 L43.09,217.62 L43.10,217.30 L43.11,216.98 L43.13,216.67 L43.14,216.36 L43.15,216.06 L43.16,215.76 L43.17,215.46 L43.18,215.17 L43.19,214.89 L43.21,214.61 L43.22,214.33 L43.23,214.06 L43.24,213.79 L43.26,213.52 L43.27,213.26 L43.28,213.00 L43.30,212.75 L43.31,212.50 L43.32,212.25 L43.34,212.01 L43.35,211.77 L43.37,211.54 L43.38,211.31 L43.39,211.08 L43.41,210.85 L43.43,210.63 L43.44,210.41 L43.46,210.20 L43.47,209.99 L43.49,209.78 L43.51,209.57 L43.52,209.37 L43.54,209.17 L43.56,208.98 L43.57,208.78 L43.59,208.59 L43.61,208.40 L43.63,208.22 L43.65,208.04 L43.67,207.86 L43.68,207.68 L43.70,207.51 L43.72,207.33 L43.74,207.17 L43.76,207.00 L43.78,206.84 L43.81,206.67 L43.83,206.51 L43.85,206.36 L43.87,206.20 L43.89,206.05 L43.91,205.90 L43.94,205.75 L43.96,205.61 L43.98,205.47 L44.01,205.32 L44.03,205.19 L44.06,205.05 L44.08,204.91 L44.11,204.78 L44.13,204.65 L44.16,204.52 L44.19,204.39 L44.21,204.27 L44.24,204.15 L44.27,204.02 L44.30,203.90 L44.33,203.79 L44.36,203.67 L44.39,203.56 L44.42,203.44 L44.45,203.33 L44.48,203.22 L44.51,203.12 L44.54,203.01 L44.57,202.91 L44.61,202.80 L44.64,202.70 L44.67,202.60 L44.71,202.50 L44.74,202.41 L44.78,202.31 L44.81,202.22 L44.85,202.12 L44.89,202.03 L44.92,201.94 L44.96,201.85 L45.00,201.77 L45.04,201.68 L45.08,201.60 L45.12,201.51 L45.16,201.43 L45.20,201.35 L45.25,201.27 L45.29,201.19 L45.33,201.11 L45.38,201.04 L45.42,200.96 L45.47,200.89 L45.52,200.82 L45.56,200.74 L45.61,200.67 L45.66,200.60 L45.71,200.53 L45.76,200.47 L45.81,200.40 L45.86,200.33 L45.91,200.27 L45.97,200.21 L46.02,200.14 L46.07,200.08 L46.13,200.02 L46.19,199.96 L46.24,199.90 L46.30,199.84 L46.36,199.79 L46.42,199.73 L46.48,199.67 L46.54,199.62 L46.61,199.57 L46.67,199.51 L46.73,199.46 L46.80,199.41 L46.87,199.36 L46.93,199.31 L47.00,199.26 L47.07,199.21 L47.14,199.16 L47.22,199.12 L47.29,199.07 L47.36,199.02 L47.44,198.98 L47.51,198.93 L47.59,198.89 L47.67,198.85 L47.75,198.80 L47.83,198.76 L47.91,198.72 L48.00,198.68 L48.08,198.64 L48.17,198.60 L48.25,198.56 L48.34,198.52 L48.43,198.49 L48.52,198.45 L48.62,198.41 L48.71,198.38 L48.81,198.34 L48.90,198.31 L49.00,198.27 L49.10,198.24 L49.20,198.21 L49.31,198.17 L49.41,198.14 L49.52,198.11 L49.62,198.08 L49.73,198.05 L49.84,198.02 L49.96,197.99 L50.07,197.96 L50.19,197.93 L50.30,197.90 L50.42,197.87 L50.55,197.84 L50.67,197.81 L50.79,197.79 L50.92,197.76 L51.05,197.73 L51.18,197.71 L51.31,197.68 L51.45,197.66 L51.59,197.63 L51.72,197.61 L51.87,197.58 L52.01,197.56 L52.15,197.54 L52.30,197.51 L52.45,197.49 L52.60,197.47 L52.76,197.45 L52.91,197.43 L53.07,197.41 L53.24,197.38 L53.40,197.36 L53.57,197.34 L53.73,197.32 L53.91,197.30 L54.08,197.28 L54.26,197.27 L54.44,197.25 L54.62,197.23 L54.80,197.21 L54.99,197.19 L55.18,197.17 L55.38,197.16 L55.57,197.14 L55.77,197.12 L55.97,197.11 L56.18,197.09 L56.39,197.07 L56.60,197.06 L56.81,197.04 L57.03,197.03 L57.25,197.01 L57.48,196.99 L57.71,196.98 L57.94,196.97 L58.17,196.95 L58.41,196.94 L58.65,196.92 L58.90,196.91 L59.15,196.90 L59.40,196.88 L59.66,196.87 L59.92,196.86 L60.19,196.84 L60.46,196.83 L60.73,196.82 L61.01,196.81 L61.29,196.79 L61.57,196.78 L61.86,196.77 L62.16,196.76 L62.46,196.75 L62.76,196.74 L63.07,196.73 L63.38,196.71 L63.70,196.70 L64.02,196.69 L64.35,196.68 L64.68,196.67 L65.02,196.66 L65.36,196.65 L65.71,196.64 L66.06,196.63 L66.42,196.62 L66.78,196.62 L67.15,196.61 L67.52,196.60 L67.91,196.59 L68.29,196.58 L68.68,196.57 L69.08,196.56 L69.48,196.55 L69.89,196.55 L70.31,196.54 L70.73,196.53 L71.16,196.52 L71.60,196.51 L72.04,196.51 L72.49,196.50 L72.94,196.49 L73.40,196.48 L73.87,196.48 L74.35,196.47 L74.83,196.46 L75.32,196.46 L75.82,196.45 L76.33,196.44 L76.84,196.44 L77.36,196.43 L77.89,196.42 L78.43,196.42 L78.97,196.41 L79.53,196.40 L80.09,196.40 L80.66,196.39 L81.24,196.39 L81.83,196.38 L82.42,196.37 L83.03,196.37 L83.64,196.36 L84.27,196.36 L84.90,196.35 L85.54,196.35 L86.20,196.34 L86.86,196.34 L87.53,196.33 L88.22,196.33 L88.91,196.32 L89.61,196.32 L90.33,196.31 L91.05,196.31 L91.79,196.30 L92.54,196.30 L93.29,196.29 L94.06,196.29 L94.85,196.29 L95.64,196.28 L96.45,196.28 L97.26,196.27 L98.09,196.27 L98.94,196.27 L99.79,196.26 L100.66,196.26 L101.54,196.25 L102.44,196.25 L103.34,196.25 L104.27,196.24 L105.20,196.24 L106.15,196.24 L107.12,196.23 L108.10,196.23 L109.09,196.22 L110.10,196.22 L111.13,196.22 L112.17,196.22 L113.22,196.21 L114.29,196.21 L115.38,196.21 L116.49,196.20 L117.61,196.20 L118.74,196.20 L119.90,196.19 L121.07,196.19 L122.26,196.19 L123.47,196.19 L124.70,196.18 L125.94,196.18 L127.21,196.18 L128.49,196.17 L129.79,196.17 L131.12,196.17 L132.46,196.17 L133.82,196.16 L135.20,196.16 L136.61,196.16 L138.03,196.16 L139.48,196.15 L140.95,196.15 L142.44,196.15 L143.96,196.15 L145.49,196.15 L147.05,196.14 L148.64,196.14 L150.24,196.14 L151.88,196.14 L153.53,196.13 L155.21,196.13 L156.92,196.13 L158.65,196.13 L160.41,196.13 L162.20,196.13 L164.01,196.12 L165.85,196.12 L167.72,196.12 L169.62,196.12 L171.54,196.12 L173.50,196.11 L175.48,196.11 L177.49,196.11 L179.54,196.11 L181.61,196.11 L183.72,196.11 L185.86,196.10 L188.03,196.10 L190.23,196.10 L192.47,196.10 L194.74,196.10 L197.05,196.10 L199.39,196.10 L201.76,196.09 L204.17,196.09 L206.62,196.09 L209.11,196.09 L211.63,196.09 L214.19,196.09 L216.79,196.09 L219.43,196.08 L222.11,196.08 L224.83,196.08 L227.59,196.08 L230.39,196.08 L233.23,196.08 L236.12,196.08 L239.05,196.08 L242.03,196.08 L245.05,196.07 L248.11,196.07 L251.23,196.07 L254.39,196.07 L257.60,196.07 L260.85,196.07 L264.16,196.07 L267.51,196.07 L270.92,196.07 L274.38,196.06 L277.89,196.06 L281.45,196.06 L285.07,196.06 L288.74,196.06 L292.47,196.06 L296.25,196.06 L300.09,196.06 L303.99,196.06 L307.95,196.06 L311.97,196.06 L316.05,196.05 L317.00,196.05" fill="none" stroke="#800080" stroke-width="1.2" stroke-dasharray="2.1 1.85 0.75 1.8"/>
<path d="M44.0,196 L296,196 L300,194.3 L305.2,199.3 M303.5,193 L306,196.3 L317.0,195.8" fill="none" stroke="#14a514" stroke-width="1.3" stroke-opacity="0.62"/>
<path d="M23.5,142.06 L322.5,142.06" fill="none" stroke="#ff3434" stroke-width="1.7" stroke-dasharray="2.4 1.3 1 1.3"/>
<rect x="23.5" y="0.5" width="299.0" height="254.7" fill="none" stroke="#b8b8b8" stroke-width="0.9"/>
<path d="M28.85,255.2 v-2.6 M28.85,0.5 v2.6 M43.25,255.2 v-1.6 M43.25,0.5 v1.6 M57.66,255.2 v-1.6 M57.66,0.5 v1.6 M72.06,255.2 v-1.6 M72.06,0.5 v1.6 M86.47,255.2 v-1.6 M86.47,0.5 v1.6 M100.88,255.2 v-2.6 M100.88,0.5 v2.6 M115.28,255.2 v-1.6 M115.28,0.5 v1.6 M129.69,255.2 v-1.6 M129.69,0.5 v1.6 M144.09,255.2 v-1.6 M144.09,0.5 v1.6 M158.50,255.2 v-1.6 M158.50,0.5 v1.6 M172.90,255.2 v-2.6 M172.90,0.5 v2.6 M187.31,255.2 v-1.6 M187.31,0.5 v1.6 M201.71,255.2 v-1.6 M201.71,0.5 v1.6 M216.12,255.2 v-1.6 M216.12,0.5 v1.6 M230.52,255.2 v-1.6 M230.52,0.5 v1.6 M244.93,255.2 v-2.6 M244.93,0.5 v2.6 M259.33,255.2 v-1.6 M259.33,0.5 v1.6 M273.74,255.2 v-1.6 M273.74,0.5 v1.6 M288.14,255.2 v-1.6 M288.14,0.5 v1.6 M302.55,255.2 v-1.6 M302.55,0.5 v1.6 M316.95,255.2 v-2.6 M316.95,0.5 v2.6 M23.5,243.28 h1.6 M322.5,243.28 h-1.6 M23.5,227.40 h2.6 M322.5,227.40 h-2.6 M23.5,211.53 h1.6 M322.5,211.53 h-1.6 M23.5,195.65 h1.6 M322.5,195.65 h-1.6 M23.5,179.78 h1.6 M322.5,179.78 h-1.6 M23.5,163.90 h2.6 M322.5,163.90 h-2.6 M23.5,148.03 h1.6 M322.5,148.03 h-1.6 M23.5,132.15 h1.6 M322.5,132.15 h-1.6 M23.5,116.28 h1.6 M322.5,116.28 h-1.6 M23.5,100.40 h2.6 M322.5,100.40 h-2.6 M23.5,84.53 h1.6 M322.5,84.53 h-1.6 M23.5,68.65 h1.6 M322.5,68.65 h-1.6 M23.5,52.78 h1.6 M322.5,52.78 h-1.6 M23.5,36.90 h2.6 M322.5,36.90 h-2.6 M23.5,21.03 h1.6 M322.5,21.03 h-1.6 M23.5,5.15 h1.6 M322.5,5.15 h-1.6" fill="none" stroke="#b8b8b8" stroke-width="1"/>
<rect x="101" y="34" width="30" height="9" fill="#80ffff"/>
<path d="M101.5,51.2 H131" stroke="#0a740a" stroke-width="1.0" fill="none"/>
<path d="M100,64.5 H131" stroke="#a8206e" stroke-width="0.9" fill="none" stroke-dasharray="3 1.5 1 1.5"/>
</svg>
<div class="t" style="left:28.85px;top:255.56px;font-size:10.50px;transform:translateX(-50%);">−1.0</div>
<div class="t" style="left:100.88px;top:255.56px;font-size:10.50px;transform:translateX(-50%);">−0.5</div>
<div class="t" style="left:172.90px;top:255.56px;font-size:10.50px;transform:translateX(-50%);">0.0</div>
<div class="t" style="left:244.93px;top:255.56px;font-size:10.50px;transform:translateX(-50%);">0.5</div>
<div class="t" style="left:316.05px;top:255.56px;font-size:10.50px;transform:translateX(-50%);">1.0</div>
<div class="t" style="left:21.30px;top:222.86px;font-size:10.50px;transform:translateX(-100%);">0</div>
<div class="t" style="left:21.30px;top:159.36px;font-size:10.50px;transform:translateX(-100%);">2</div>
<div class="t" style="left:21.30px;top:95.86px;font-size:10.50px;transform:translateX(-100%);">4</div>
<div class="t" style="left:21.30px;top:32.36px;font-size:10.50px;transform:translateX(-100%);">6</div>
<div class="t" style="left:42.50px;top:89.05px;font-size:9.50px;">−0.535</div>
<div class="t" style="left:25.40px;top:124.05px;font-size:9.50px;letter-spacing:-0.3px;">0.61</div>
<div class="t" style="left:62.30px;top:118.25px;font-size:9.50px;">1.57</div>
<div class="t" style="left:32.10px;top:167.95px;font-size:9.50px;">−0.565</div>
<div class="t" style="left:32.10px;top:211.65px;font-size:9.50px;">−0.565</div>
<div class="t" style="left:64.30px;top:220.75px;font-size:9.50px;letter-spacing:-0.3px;">0.61</div>
<div class="t" style="left:88.00px;top:215.95px;font-size:9.50px;">−0.595</div>
<div class="t" style="left:181.50px;top:152.55px;font-size:9.50px;">0.2</div>
<div class="t" style="left:203.70px;top:212.15px;font-size:9.50px;">−0.3</div>
<div class="t" style="left:304.60px;top:18.95px;font-size:9.50px;">−0.3</div>
<div class="t" style="left:290.00px;top:109.05px;font-size:9.50px;">−0.134</div>
<div class="t" style="left:287.00px;top:210.15px;font-size:9.50px;">−0.134</div>
<div class="t" style="left:281.20px;top:229.05px;font-size:9.50px;letter-spacing:-0.3px;">0.61</div>
<div class="t" style="left:278.50px;top:243.95px;font-size:9.50px;">1.57</div>
<div class="t" style="left:30px;top:52px;font-size:9.50px;transform:translate(-50%,-50%) rotate(-80deg)">−0.595</div>
<div class="t" style="left:134.60px;top:32.73px;font-size:9.40px;">2</div>
<div class="t" style="left:140.00px;top:31.78px;font-size:10.53px;font-style:italic;">σ</div>
<div class="t" style="left:148.60px;top:32.73px;font-size:9.40px;letter-spacing:-0.65px;">BR(</div>
<div class="t" style="left:162.40px;top:32.73px;font-size:9.40px;font-style:italic;">B</div>
<div class="t" style="left:169.20px;top:31.30px;font-size:6.80px;">−</div>
<div class="t" style="left:169.40px;top:36.11px;font-size:6.80px;font-style:italic;">u</div>
<svg style="position:absolute;left:174px;top:33px" width="10" height="10" viewBox="0 0 10 10"><path d="M1.8,4.8 H7.6 M5.6,3.0 Q6.4,4.4 8.2,4.8 Q6.4,5.2 5.6,6.6" fill="none" stroke="#000" stroke-width="0.8"/></svg>
<div class="t" style="left:186.40px;top:31.78px;font-size:10.53px;font-style:italic;">τ</div>
<div class="t" style="left:192.90px;top:32.73px;font-size:9.40px;font-style:italic;">ν</div>
<div style="position:absolute;left:193.4px;top:35.2px;width:3.4px;height:0.7px;background:#000"></div>
<div class="t" style="left:197.30px;top:32.73px;font-size:9.40px;">)</div>
<div class="t" style="left:200.50px;top:30.72px;font-size:6.30px;-webkit-text-stroke:0;">Exp</div>
<div class="t" style="left:134.30px;top:45.26px;font-size:9.96px;font-style:italic;">P</div>
<div class="t" style="left:141.00px;top:44.01px;font-size:6.80px;font-style:italic;">τ</div>
<div class="t" style="left:140.60px;top:49.41px;font-size:6.80px;font-style:italic;">π</div>
<div class="t" style="left:134.30px;top:58.36px;font-size:9.96px;font-style:italic;">P</div>
<div class="t" style="left:141.00px;top:57.11px;font-size:6.80px;font-style:italic;">τ</div>
<div class="t" style="left:140.60px;top:62.51px;font-size:6.80px;font-style:italic;">ρ</div>
<div style="position:absolute;left:122.9px;top:129.4px;width:0.8px;height:10.6px;background:#111"></div>
<div style="position:absolute;left:153.2px;top:129.4px;width:0.8px;height:10.6px;background:#111"></div>
<div class="t" style="left:126.70px;top:129.93px;font-size:9.40px;">1</div>
<div class="t" style="left:132.40px;top:129.28px;font-size:10.53px;">−</div>
<div class="t" style="left:140.00px;top:127.35px;font-size:12.00px;font-style:italic;">χ</div>
<div class="t" style="left:146.60px;top:127.51px;font-size:6.80px;font-style:italic;">ℓ</div>
<div class="t" style="left:146.20px;top:132.79px;font-size:6.46px;font-style:italic;">τ</div>
<div class="t" style="left:158.50px;top:129.73px;font-size:9.87px;">&lt;</div>
<div class="t" style="left:168.70px;top:129.93px;font-size:9.40px;letter-spacing:-0.3px;">1.70</div>
<div class="t" style="left:167.00px;top:268.17px;font-size:11.50px;font-style:italic;">χ</div>
<div class="t" style="left:173.20px;top:269.07px;font-size:6.60px;font-style:italic;">u</div>
<div class="t" style="left:173.00px;top:275.47px;font-size:6.60px;letter-spacing:-0.2px;">tu</div>
<div class="t" style="left:0.3px;top:121.2px;width:10px;height:12px;transform:rotate(-90deg) scale(0.9,1.1);transform-origin:5px 6px"><div class="t" style="left:0;top:-2.05px;font-size:12px;font-style:italic">χ</div><div class="t" style="left:6.6px;top:-1.9px;font-size:6.8px;font-style:italic">ℓ</div><div class="t" style="left:6.2px;top:3.36px;font-size:6.5px;font-style:italic">τ</div></div>
</body></html>
